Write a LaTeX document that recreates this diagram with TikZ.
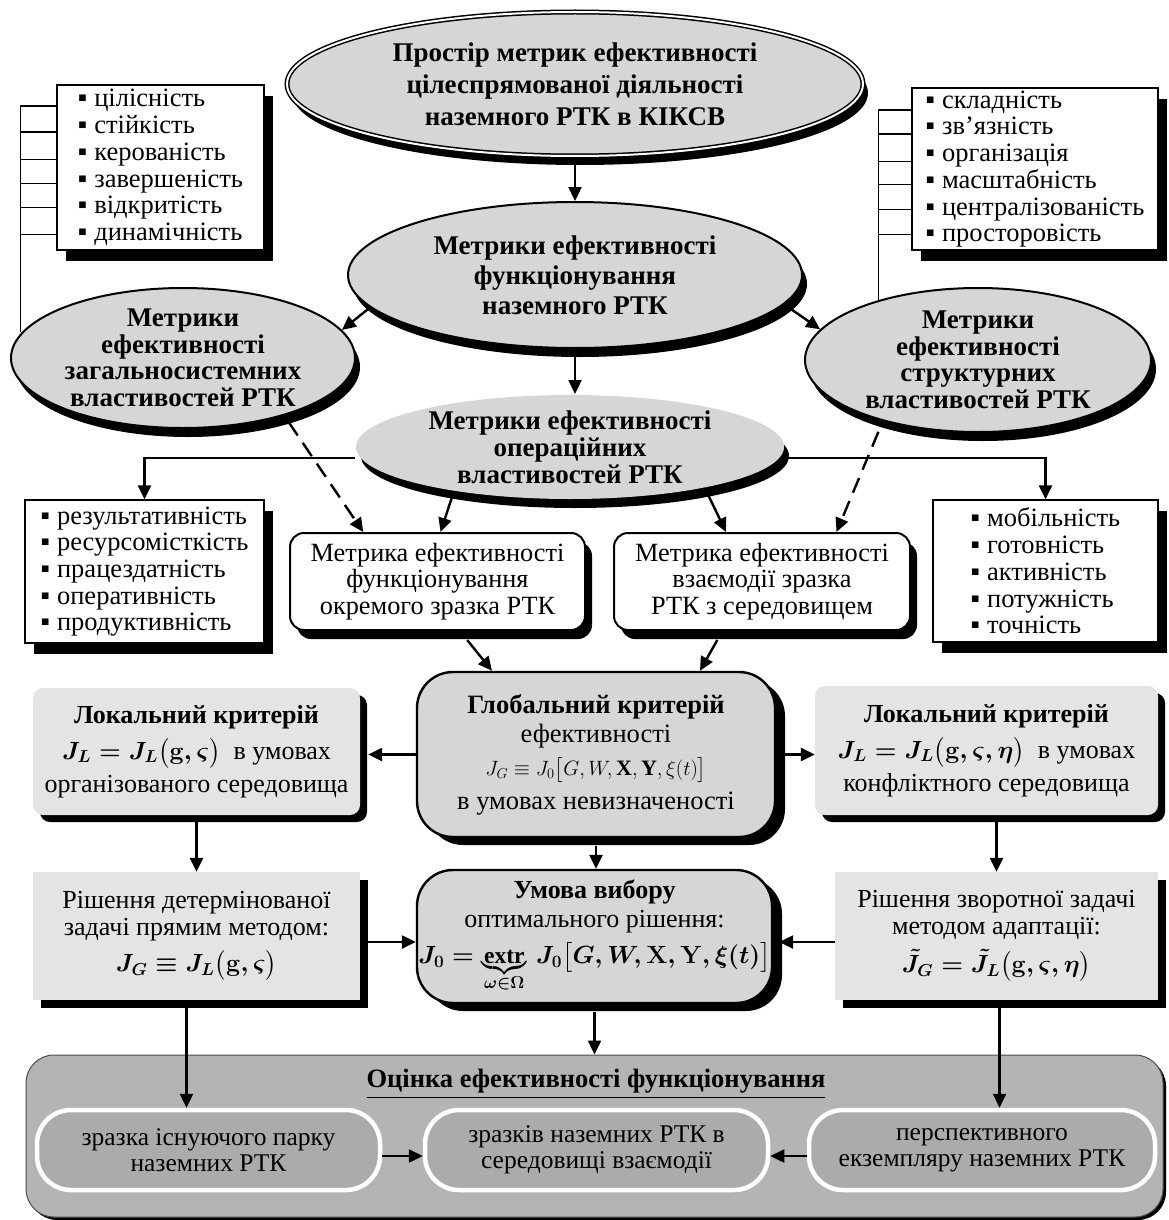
\documentclass[tikz,border=0pt]{standalone}
\usepackage{fontspec}
\setmainfont{Liberation Serif}
\usepackage{amsmath}
\usetikzlibrary{shapes.geometric,arrows.meta,shadows,calc}
\definecolor{ellfill}{HTML}{D6D6D6}
\definecolor{lightfill}{HTML}{E4E4E4}
\definecolor{botfill}{HTML}{B4B4B4}
\definecolor{pillfill}{HTML}{ABABAB}
\newcommand{\bl}{▪\hspace{7pt}}
\begin{document}
\begin{tikzpicture}[x=1pt,y=-1pt,
  every node/.style={font=\fontsize{26.5}{26.7}\selectfont},
  ell/.style={ellipse, draw, line width=2pt, fill=ellfill, inner sep=0pt, align=center,
    font=\bfseries\fontsize{27}{26.5}\selectfont,
    drop shadow={shadow xshift=5pt, shadow yshift=-9pt, fill=black, opacity=1}},
  listbox/.style={rectangle, draw, line width=1.2pt, fill=white, align=left, inner sep=0pt,
    drop shadow={shadow xshift=9pt, shadow yshift=-11pt, fill=black, opacity=1}},
  metbox/.style={rectangle, rounded corners=14pt, draw, line width=2pt, fill=white, align=center, inner sep=0pt,
    font=\fontsize{26.3}{26.5}\selectfont,
    drop shadow={shadow xshift=7pt, shadow yshift=-9pt, fill=black, opacity=1}},
  bigbox/.style={rectangle, rounded corners=36pt, draw, line width=2.4pt, fill=ellfill, align=center, inner sep=0pt,
    drop shadow={shadow xshift=10pt, shadow yshift=-8pt, fill=black, opacity=1}},
  locbox/.style={rectangle, rounded corners=10pt, fill=lightfill, align=center, inner sep=0pt,
    drop shadow={shadow xshift=7pt, shadow yshift=-7pt, fill=black, opacity=1}},
  solbox/.style={rectangle, sharp corners, fill=lightfill, align=center, inner sep=0pt,
    drop shadow={shadow xshift=8pt, shadow yshift=-8pt, fill=black, opacity=1}},
  outerbox/.style={rectangle, rounded corners=28pt, fill=botfill, draw=black!70, line width=1pt,
    drop shadow={shadow xshift=3pt, shadow yshift=-3pt, fill=black, opacity=1}},
  pill/.style={rectangle, rounded corners=34pt, fill=pillfill, draw=white, line width=4.5pt, align=center, inner sep=0pt,
    font=\fontsize{25.5}{26}\selectfont},
  arr/.style={line width=2.4pt, -{Triangle[length=14pt,width=13pt]}},
  dsh/.style={arr, dash pattern=on 16pt off 9pt},
  brk/.style={line width=1.8pt}
]
\useasboundingbox (0,0) rectangle (1169,1220);

% ellipses
\node[ell, double=white, double distance=2pt, line width=1.5pt, minimum width=576pt, minimum height=144pt,
  font=\bfseries\fontsize{27}{32}\selectfont] (top) at (575,84)
  {Простір метрик ефективності\\цілеспрямованої діяльності\\наземного РТК в КІКСВ};
\node[ell, minimum width=454pt, minimum height=146pt, font=\bfseries\fontsize{27}{30}\selectfont] (func) at (575,275)
  {Метрики ефективності\\функціонування\\наземного РТК};
\node[ell, minimum width=344pt, minimum height=140pt] (left) at (183,358)
  {Метрики\\ефективності\\загальносистемних\\властивостей РТК};
\node[ell, minimum width=346pt, minimum height=144pt] (right) at (978,360)
  {Метрики\\ефективності\\структурних\\властивостей РТК};
\node[ell, draw=none, minimum width=428pt, minimum height=104pt, font=\bfseries\fontsize{27}{27}\selectfont] (op) at (570,447)
  {Метрики ефективності\\операційних\\властивостей РТК};

% list boxes
\node[listbox, minimum width=207pt, minimum height=165pt] (box1) at (160.5,167.5)
  {\bl цілісність\\\bl стійкість\\\bl керованість\\\bl завершеність\\\bl відкритість\\\bl динамічність};
\node[listbox, minimum width=246pt, minimum height=162pt] (box2) at (1035,169)
  {\bl складність\\\bl зв’язність\\\bl організація\\\bl масштабність\\\bl централізованість\\\bl просторовість};
\node[listbox, minimum width=239pt, minimum height=143pt] (box3) at (144.5,571.5)
  {\bl результативність\\\bl ресурсомісткість\\\bl працездатність\\\bl оперативність\\\bl продуктивність};
\node[listbox, minimum width=225pt, minimum height=142pt] (box4) at (1045.5,571)
  {\bl мобільність\\\bl готовність\\\bl активність\\\bl потужність\\\bl точність};

% metric boxes
\node[metbox, minimum width=295pt, minimum height=97pt] (metL) at (437.5,581.5)
  {Метрика ефективності\\функціонування\\окремого зразка РТК};
\node[metbox, minimum width=296pt, minimum height=97pt] (metR) at (762,581.5)
  {Метрика ефективності\\взаємодії зразка\\РТК з середовищем};

% global and choice
\node[bigbox, minimum width=358pt, minimum height=165pt, font=\fontsize{26.5}{29}\selectfont] (glob) at (596,754.5)
  {\textbf{Глобальний критерій}\\ефективності\\[4pt]{\fontsize{22}{25}\selectfont $J_G \equiv J_0\big[G,W,\mathbf{X},\mathbf{Y},\xi(t)\big]$}\\[5pt]в умовах невизначеності};
\node[bigbox, minimum width=355pt, minimum height=133pt, font=\fontsize{26}{29}\selectfont] (umova) at (594.5,936.5)
  {\textbf{Умова вибору}\\оптимального рішення:\\[7pt]{\fontsize{23.5}{26}\selectfont\boldmath$J_0=\underbrace{\mathrm{extr}}_{\omega\in\Omega}\,J_0\big[G,W,\mathbf{X},\mathbf{Y},\xi(t)\big]$}};

% local criteria
\node[locbox, minimum width=327pt, minimum height=127pt, font=\fontsize{26}{33}\selectfont] (locL) at (196.5,751.5)
  {\textbf{Локальний критерій}\\[3pt]{\boldmath$J_L=J_L\big(\mathbf{g},\varsigma\big)$}\ \ в умовах\\організованого середовища};
\node[locbox, minimum width=343pt, minimum height=129pt, font=\fontsize{26}{33}\selectfont] (locR) at (986.5,750.5)
  {\textbf{Локальний критерій}\\[3pt]{\boldmath$J_L=J_L\big(\mathbf{g},\varsigma,\eta\big)$}\ \ в умовах\\конфліктного середовища};

% solutions
\node[solbox, minimum width=327pt, minimum height=128pt, font=\fontsize{26}{27}\selectfont] (rishL) at (196.5,936)
  {Рішення детермінованої\\задачі прямим методом:\\[9pt]{\boldmath$J_G\equiv J_L\big(\mathbf{g},\varsigma\big)$}};
\node[solbox, minimum width=323pt, minimum height=128pt, font=\fontsize{26}{27}\selectfont] (rishR) at (996.5,936)
  {Рішення зворотної задачі\\методом адаптації:\\[9pt]{\boldmath$\tilde{J}_G=\tilde{J}_L\big(\mathbf{g},\varsigma,\eta\big)$}};

% bottom block
\node[outerbox, minimum width=1137pt, minimum height=162pt] (bot) at (594.5,1136) {};
\node[font=\bfseries\fontsize{26.5}{28}\selectfont] (ttl) at (596,1084) {\underline{Оцінка ефективності функціонування}};
\node[pill, minimum width=343pt, minimum height=80pt] (p1) at (208.5,1150) {зразка існуючого парку\\наземних РТК};
\node[pill, minimum width=343pt, minimum height=80pt] (p2) at (596.5,1150) {зразків наземних РТК в\\середовищі взаємодії};
\node[pill, minimum width=346pt, minimum height=80pt] (p3) at (982,1150) {перспективного\\екземпляру наземних РТК};

% brackets
\foreach \d in {22,48,75,99,123,150} \draw[brk] ($(box1.north west)+(0,\d)$) -- ++(-36,0);
\coordinate (b1a) at ($(box1.north west)+(-36,22)$);
\draw[brk] (b1a) -- (b1a |- left.171);
\foreach \d in {23,47,74,97,122,147} \draw[brk] ($(box2.north west)+(0,\d)$) -- ++(-33,0);
\coordinate (b2a) at ($(box2.north west)+(-33,23)$);
\draw[brk] (b2a) -- (b2a |- right.149);

% connectors
\draw[arr] ([yshift=-7pt]top.south) -- (func.north);
\draw[arr] (func.189) -- (left.10);
\draw[arr] (func.-8) -- (right.169);
\draw[arr] ([yshift=-8pt]func.south) -- (func.south |- op.north);
\draw[arr] ([yshift=-11pt]op.west) -| (box3.north);
\draw[arr] ([yshift=-11pt]op.east) -| (box4.north);
\draw[dsh] ([yshift=-8pt]left.-28) -- ($(metL.north west)!0.25!(metL.north east)$);
\draw[dsh] ([yshift=-12pt]right.-149) -- ($(metR.north west)!0.75!(metR.north east)$);
\draw[arr] (op.201) -- ([xshift=3pt]metL.north);
\draw[arr] (op.-17) -- ([xshift=-36pt]metR.north);
\draw[arr] ([yshift=-9pt]$(metL.south west)!0.6!(metL.south east)$) -- ([xshift=-104pt]glob.north);
\draw[arr] ([yshift=-9pt]$(metR.south west)!0.35!(metR.south east)$) -- ([xshift=104pt]glob.north);
\draw[arr] (glob.west) -- ([xshift=8pt]glob.west -| locL.east);
\draw[arr] (glob.east) -- (glob.east -| locR.west);
\draw[arr] ([yshift=-7pt]locL.south) -- (rishL.north);
\draw[arr] ([yshift=-7pt]rishR.north |- locR.south) -- (rishR.north);
\draw[arr] ([xshift=8pt,yshift=-6pt]rishL.east) -- ([yshift=-6pt]rishL.east -| umova.west);
\draw[arr] ([yshift=-6pt]rishR.west) -- ([xshift=6pt,yshift=-6pt]rishR.west -| umova.east);
\draw[arr] ([yshift=-8pt]glob.south) -- (glob.south |- umova.north);
\draw[arr] ([yshift=-8pt]umova.south) -- (umova.south |- bot.north);
\draw[arr] ([xshift=-10pt,yshift=-8pt]rishL.south) -- ([xshift=-10pt]rishL.south |- p1.north);
\draw[arr] ([xshift=3pt,yshift=-8pt]rishR.south) -- ([xshift=3pt]rishR.south |- p3.north);
\draw[arr] ([yshift=-6pt]p1.east) -- ([yshift=-6pt]p2.west);
\draw[arr] ([yshift=-6pt]p3.west) -- ([yshift=-6pt]p2.east);
\end{tikzpicture}
\end{document}
